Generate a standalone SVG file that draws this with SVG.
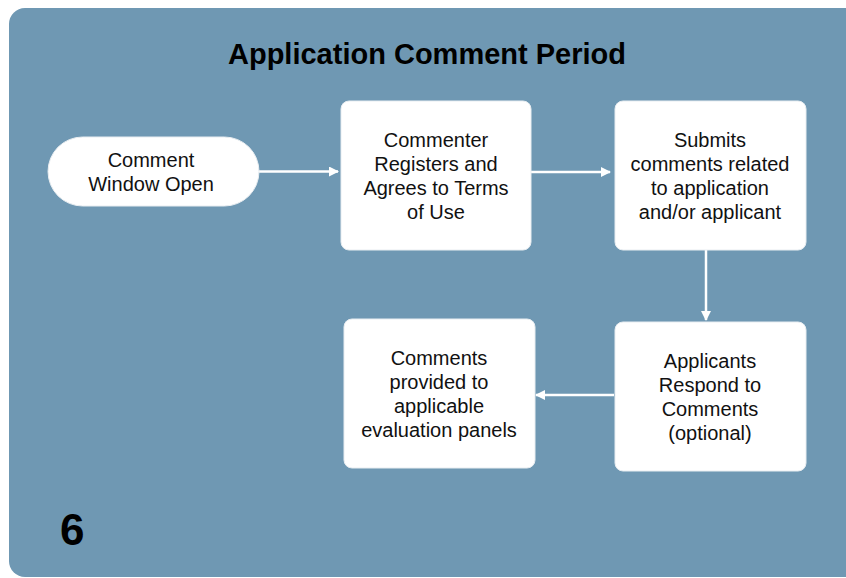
<svg xmlns="http://www.w3.org/2000/svg" width="846" height="578" viewBox="0 0 846 578">
<style>
.node{fill:#ffffff;stroke:#e8edf1;stroke-width:1}
.t{font-family:"Liberation Sans",Arial,sans-serif;font-size:20px;fill:#111111;text-anchor:middle}
.title{font-family:"Liberation Sans",Arial,sans-serif;font-size:29px;font-weight:bold;fill:#000000;text-anchor:middle}
.edge{stroke:#ffffff;stroke-width:2.5;fill:none;marker-end:url(#ah)}
</style>
<defs>
<marker id="ah" markerWidth="10" markerHeight="10" refX="9" refY="5" orient="auto" markerUnits="userSpaceOnUse">
<path d="M0,0 L10,5 L0,10 z" fill="#ffffff"/>
</marker>
</defs>
<rect x="0" y="0" width="846" height="578" fill="#ffffff"/>
<rect id="panel" x="9" y="8" width="860" height="569" rx="16" fill="#6f98b3"/>
<text class="title" x="427" y="64">Application Comment Period</text>
<g id="connectors">
<line class="edge" x1="259" y1="171.5" x2="338" y2="171.5"/>
<line class="edge" x1="531" y1="172" x2="610" y2="172"/>
<line class="edge" x1="706" y1="250" x2="706" y2="320"/>
<line class="edge" x1="614" y1="395" x2="536" y2="395"/>
</g>
<g id="start">
<rect class="node" x="48" y="137" width="211" height="69" rx="34.5"/>
<text class="t" x="151" y="167">Comment</text>
<text class="t" x="151" y="191">Window Open</text>
</g>
<g id="register">
<rect class="node" x="341" y="101" width="190" height="149" rx="8"/>
<text class="t" x="436" y="147">Commenter</text>
<text class="t" x="436" y="171">Registers and</text>
<text class="t" x="436" y="195">Agrees to Terms</text>
<text class="t" x="436" y="219">of Use</text>
</g>
<g id="submit">
<rect class="node" x="615" y="101" width="191" height="149" rx="8"/>
<text class="t" x="710" y="147">Submits</text>
<text class="t" x="710" y="171">comments related</text>
<text class="t" x="710" y="195">to application</text>
<text class="t" x="710" y="219">and/or applicant</text>
</g>
<g id="respond">
<rect class="node" x="615" y="322" width="191" height="149" rx="8"/>
<text class="t" x="710" y="368">Applicants</text>
<text class="t" x="710" y="392">Respond to</text>
<text class="t" x="710" y="416">Comments</text>
<text class="t" x="710" y="440">(optional)</text>
</g>
<g id="provided">
<rect class="node" x="344" y="319" width="191" height="149" rx="8"/>
<text class="t" x="439" y="365">Comments</text>
<text class="t" x="439" y="389">provided to</text>
<text class="t" x="439" y="413">applicable</text>
<text class="t" x="439" y="437">evaluation panels</text>
</g>
<text id="pagenum" x="60" y="545" font-family="Liberation Sans, Arial, sans-serif" font-size="44" font-weight="bold" fill="#000000">6</text>
</svg>
